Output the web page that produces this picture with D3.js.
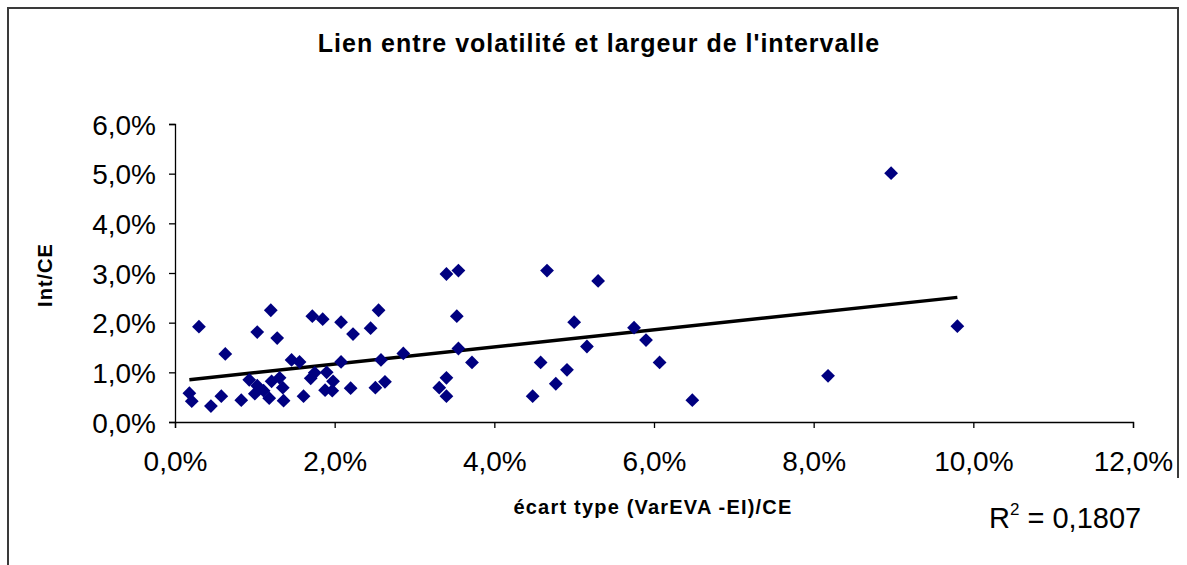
<html>
<head>
<meta charset="utf-8">
<style>
body { margin: 0; background: #fff; }
svg text { font-family: "Liberation Sans", Arial, sans-serif; }
</style>
<script src="https://d3js.org/d3.v7.min.js"></script>
</head>
<body>
<div id="chart"></div>
<script>

// ecart type (VarEVA - EI)/CE, in %
const ecartType = [
  0.18, 0.21, 0.30, 0.45, 0.58, 0.63, 0.83, 0.93, 1.03, 1.00,
  1.03, 1.11, 1.18, 1.20, 1.21, 1.28, 1.31, 1.35, 1.36, 1.46,
  1.56, 1.61, 1.72, 1.70, 1.75, 1.85, 1.90, 1.88, 1.98, 1.97,
  2.08, 2.08, 2.23, 2.20, 2.45, 2.55, 2.51, 2.58, 2.63, 2.86,
  3.40, 3.55, 3.53, 3.55, 3.72, 3.40, 3.31, 3.40, 4.66, 4.48,
  4.58, 4.77, 4.91, 5.00, 5.30, 5.16, 5.75, 5.90, 6.07, 6.48,
  8.18, 9.80, 8.97
];
// Int/CE, in %
const intCE = [
  0.58, 0.42, 1.92, 0.32, 0.52, 1.37, 0.44, 0.85, 1.81, 0.57,
  0.73, 0.63, 0.48, 2.25, 0.82, 1.69, 0.89, 0.69, 0.43, 1.25,
  1.21, 0.52, 2.13, 0.88, 0.99, 2.07, 1.00, 0.64, 0.82, 0.63,
  2.01, 1.21, 1.77, 0.68, 1.89, 2.25, 0.69, 1.25, 0.81, 1.38,
  2.98, 3.05, 2.13, 1.48, 1.20, 0.89, 0.69, 0.52, 3.05, 0.52,
  1.20, 0.77, 1.05, 2.01, 2.84, 1.52, 1.90, 1.65, 1.20, 0.44,
  0.93, 1.93, 5.01
];

const xTicks = [0, 2, 4, 6, 8, 10, 12];
const yTicks = [0, 1, 2, 3, 4, 5, 6];
const rSquared = "0,1807";

const W = 1187, H = 565;
const plot = {left: 175, right: 1133, top: 124, bottom: 422};

const svg = d3.select("#chart").append("svg")
  .attr("width", W)
  .attr("height", H);

// outer frame of the chart
svg.append("path")
  .attr("d", `M8,${H} L8,8 L1178,8 L1178,478`)
  .attr("fill", "none")
  .attr("stroke", "#3a3a3a")
  .attr("stroke-width", 2);

const x = d3.scaleLinear().domain([0, 12]).range([plot.left, plot.right]);
const y = d3.scaleLinear().domain([0, 6]).range([plot.bottom, plot.top]);

const fmt = v => v.toFixed(1).replace(".", ",") + "%";

// axes
const xAxis = svg.append("g")
  .attr("transform", `translate(0,${plot.bottom})`)
  .call(d3.axisBottom(x).tickValues(xTicks).tickFormat(fmt).tickSize(6).tickSizeOuter(6));
const yAxis = svg.append("g")
  .attr("transform", `translate(${plot.left},0)`)
  .call(d3.axisLeft(y).tickValues(yTicks).tickFormat(fmt).tickSize(6).tickSizeOuter(6));

[xAxis, yAxis].forEach(a => {
  a.select(".domain").attr("stroke", "#000").attr("stroke-width", 1.3);
  a.selectAll(".tick line").attr("stroke", "#000").attr("stroke-width", 1.3);
  a.selectAll(".tick text")
    .attr("fill", "#000")
    .style("font-size", "28px");
});
xAxis.selectAll(".tick text").attr("y", 29);
yAxis.selectAll(".tick text").attr("x", -19).attr("dy", "0.36em");

// trend line (least squares)
const mx = d3.mean(ecartType), my = d3.mean(intCE);
const slope = d3.sum(ecartType, (v, i) => (v - mx) * (intCE[i] - my)) /
              d3.sum(ecartType, v => (v - mx) * (v - mx));
const icpt = my - slope * mx;
const xr = d3.extent(ecartType);
svg.append("line")
  .attr("x1", x(xr[0])).attr("y1", y(icpt + slope * xr[0]))
  .attr("x2", x(xr[1])).attr("y2", y(icpt + slope * xr[1]))
  .attr("stroke", "#000")
  .attr("stroke-width", 3.5);

// points
const diamond = d3.symbol(d3.symbolSquare, 95);
svg.append("g")
  .selectAll("path")
  .data(ecartType.map((v, i) => [v, intCE[i]]))
  .join("path")
    .attr("d", diamond)
    .attr("transform", d => `translate(${x(d[0])},${y(d[1])}) rotate(45)`)
    .attr("fill", "#000080");

// texts
svg.append("text")
  .attr("x", 599).attr("y", 52)
  .attr("text-anchor", "middle")
  .style("font-size", "25px").style("font-weight", "bold")
  .style("letter-spacing", "1px")
  .text("Lien entre volatilité et largeur de l'intervalle");

svg.append("text")
  .attr("transform", "translate(52,275) rotate(-90)")
  .attr("text-anchor", "middle")
  .style("font-size", "20px").style("font-weight", "bold")
  .style("letter-spacing", "1px")
  .text("Int/CE");

svg.append("text")
  .attr("x", 653).attr("y", 514)
  .attr("text-anchor", "middle")
  .style("font-size", "20px").style("font-weight", "bold")
  .style("letter-spacing", "1.2px")
  .text("écart type (VarEVA -EI)/CE");

const r2 = svg.append("text")
  .attr("x", 989).attr("y", 528)
  .style("font-size", "29px");
r2.append("tspan").text("R");
r2.append("tspan").attr("dy", -13).style("font-size", "17px").text("2");
r2.append("tspan").attr("dy", 13).text(" = " + rSquared);

</script>
</body>
</html>
